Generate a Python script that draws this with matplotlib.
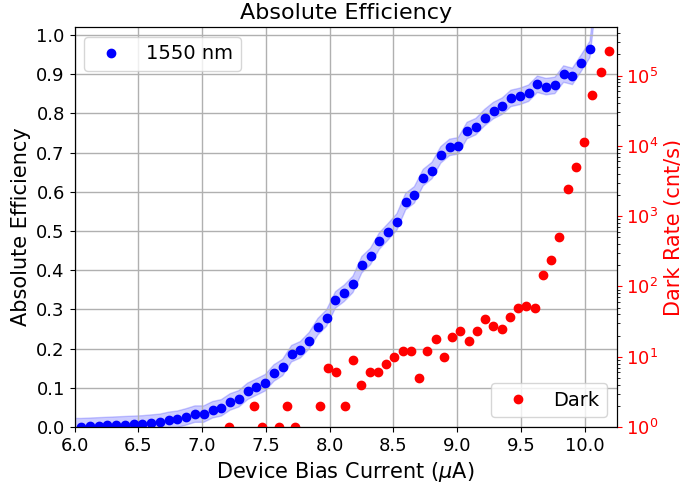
import matplotlib
matplotlib.use("Agg")
import matplotlib.pyplot as plt
import numpy as np

# Blue: 1550 nm efficiency
eff_x = [6.050, 6.119, 6.188, 6.256, 6.325, 6.394, 6.463, 6.532, 6.600, 6.669,
         6.738, 6.807, 6.876, 6.944, 7.013, 7.082, 7.151, 7.220, 7.288, 7.357,
         7.426, 7.495, 7.564, 7.632, 7.701, 7.770, 7.839, 7.908, 7.976, 8.045,
         8.114, 8.183, 8.252, 8.320, 8.389, 8.458, 8.527, 8.596, 8.664, 8.733,
         8.802, 8.871, 8.940, 9.008, 9.077, 9.146, 9.215, 9.284, 9.352, 9.421,
         9.490, 9.559, 9.628, 9.696, 9.765, 9.834, 9.903, 9.972, 10.040]
eff_y = [0.001, 0.002, 0.003, 0.004, 0.005, 0.006, 0.007, 0.008, 0.010, 0.012,
         0.017, 0.020, 0.026, 0.033, 0.033, 0.044, 0.049, 0.064, 0.072, 0.091,
         0.102, 0.113, 0.138, 0.152, 0.187, 0.197, 0.220, 0.256, 0.278, 0.324,
         0.341, 0.364, 0.414, 0.435, 0.474, 0.498, 0.523, 0.575, 0.592, 0.636,
         0.654, 0.694, 0.713, 0.717, 0.756, 0.766, 0.789, 0.807, 0.818, 0.838,
         0.843, 0.851, 0.874, 0.868, 0.871, 0.900, 0.894, 0.928, 0.963]
# Fit band (centre) extends slightly beyond the data
fit_x = [6.0] + eff_x + [10.07, 10.09]
fit_y = [0.001] + eff_y + [1.05, 1.20]
band_halfwidth = 0.021

# Red: dark count rate
dark_x = [7.212, 7.406, 7.471, 7.600, 7.665, 7.730, 7.924, 7.989, 8.053, 8.118,
          8.183, 8.247, 8.312, 8.377, 8.442, 8.506, 8.571, 8.636, 8.700, 8.765,
          8.830, 8.894, 8.959, 9.024, 9.088, 9.153, 9.218, 9.282, 9.347, 9.412,
          9.477, 9.541, 9.606, 9.671, 9.735, 9.800, 9.865, 9.929, 9.994, 10.059,
          10.123, 10.188]
dark_y = [1, 2, 1, 1, 2, 1, 2, 7, 6, 2,
          9, 4, 6, 6, 8, 10, 12, 12, 5, 12,
          18, 10, 19, 23, 17, 23, 34, 27, 25, 37,
          50, 53, 50, 147, 240, 510, 2440, 4970, 11400, 53000,
          111000, 223000]

fig = plt.figure(figsize=(6.8, 4.82), dpi=100)
ax = fig.add_axes([0.1096, 0.114, 0.7974, 0.830])

fy = np.array(fit_y)
ax.fill_between(fit_x, fy - band_halfwidth, fy + band_halfwidth, color='blue', alpha=0.2, linewidth=1)
ax.plot(eff_x, eff_y, 'o', color='blue', markersize=6, label='1550 nm')
ax.set_xlim(6.0, 10.25)
ax.set_ylim(0, 1.02)
ax.set_yticks(np.arange(0, 1.01, 0.1))
ax.grid(True, color='#b0b0b0', linewidth=1)
ax.tick_params(labelsize=13)
ax.set_xlabel('Device Bias Current ($\\mu$A)', fontsize=15)
ax.set_ylabel('Absolute Efficiency', fontsize=15)
ax.set_title('Absolute Efficiency', fontsize=16)
ax.legend(loc='upper left', fontsize=14)

ax2 = ax.twinx()
ax2.plot(dark_x, dark_y, 'o', color='red', markersize=6, label='Dark')
ax2.set_yscale('log')
ax2.set_ylim(1, 4.9e5)
ax2.tick_params(axis='y', colors='red', labelsize=13)
ax2.set_ylabel('Dark Rate (cnt/s)', color='red', fontsize=15)
ax2.legend(loc='lower right', fontsize=14)

fig.savefig('out.png', dpi=100)
